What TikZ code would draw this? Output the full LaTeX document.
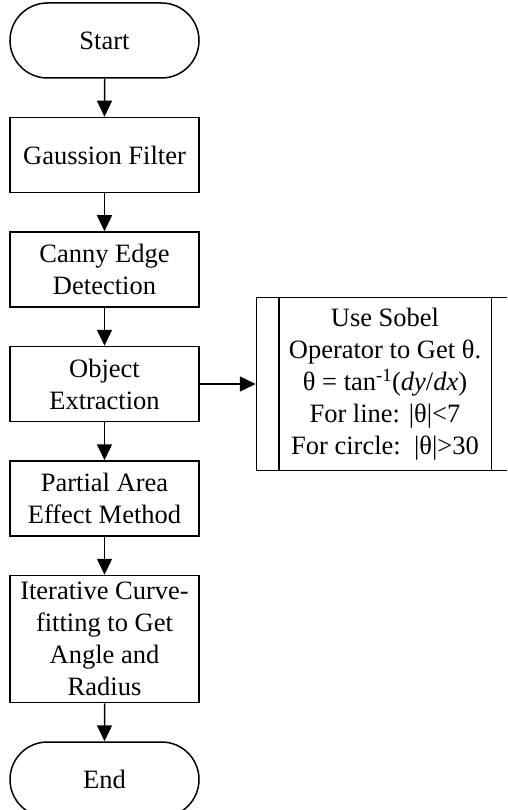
\documentclass[tikz,border=0pt]{standalone}
\usepackage{fontspec}
\setmainfont{Liberation Serif}
\usepackage{tikz}
\usetikzlibrary{positioning,arrows.meta,shapes.misc}

\begin{document}
\begin{tikzpicture}[
  x=1pt, y=1pt,
  node distance=38pt and 56pt,
  every node/.style={font=\fontsize{26.5}{32}\selectfont, line width=1.5pt},
  terminal/.style={rounded rectangle, draw, align=center, minimum width=189pt, minimum height=75pt, inner sep=0pt},
  box/.style={draw, align=center, minimum width=189pt, minimum height=75pt, inner sep=2pt},
  subproc/.style={draw, align=center, minimum width=257pt, minimum height=173pt, inner sep=0pt},
  flow/.style={-{Triangle[length=16pt,width=15pt]}, line width=1.5pt}
]
\useasboundingbox (0,0) rectangle (507,-810);
\clip (0,0) rectangle (507,-810);
\node[terminal] (start) at (104.5,-40.5) {Start};
\node[box, below=of start] (gauss) {Gaussion Filter};
\node[box, below=of gauss] (canny) {Canny Edge\\Detection};
\node[box, below=of canny] (extract) {Object\\Extraction};
\node[box, below=of extract] (pae) {Partial Area\\Effect Method};
\node[box, below=of pae, minimum height=127pt] (fit) {Iterative Curve-\\fitting to Get\\Angle and\\Radius};
\node[terminal, below=of fit] (stop) {End};
\node[subproc, right=of extract] (sobel) {Use Sobel\\Operator to Get θ.\\θ = tan\textsuperscript{-1}(\textit{dy}/\textit{dx})\\For line: |θ|<7\\For circle:\ \ |θ|>30};
\draw[line width=1.5pt] ([xshift=23pt]sobel.north west) -- ([xshift=23pt]sobel.south west);
\draw[line width=1.5pt] ([xshift=-23pt]sobel.north east) -- ([xshift=-23pt]sobel.south east);

\draw[flow] (start) -- (gauss);
\draw[flow] (gauss) -- (canny);
\draw[flow] (canny) -- (extract);
\draw[flow] (extract) -- (pae);
\draw[flow] (pae) -- (fit);
\draw[flow] (fit) -- (stop);
\draw[flow] (extract) -- (sobel);
\end{tikzpicture}
\end{document}
